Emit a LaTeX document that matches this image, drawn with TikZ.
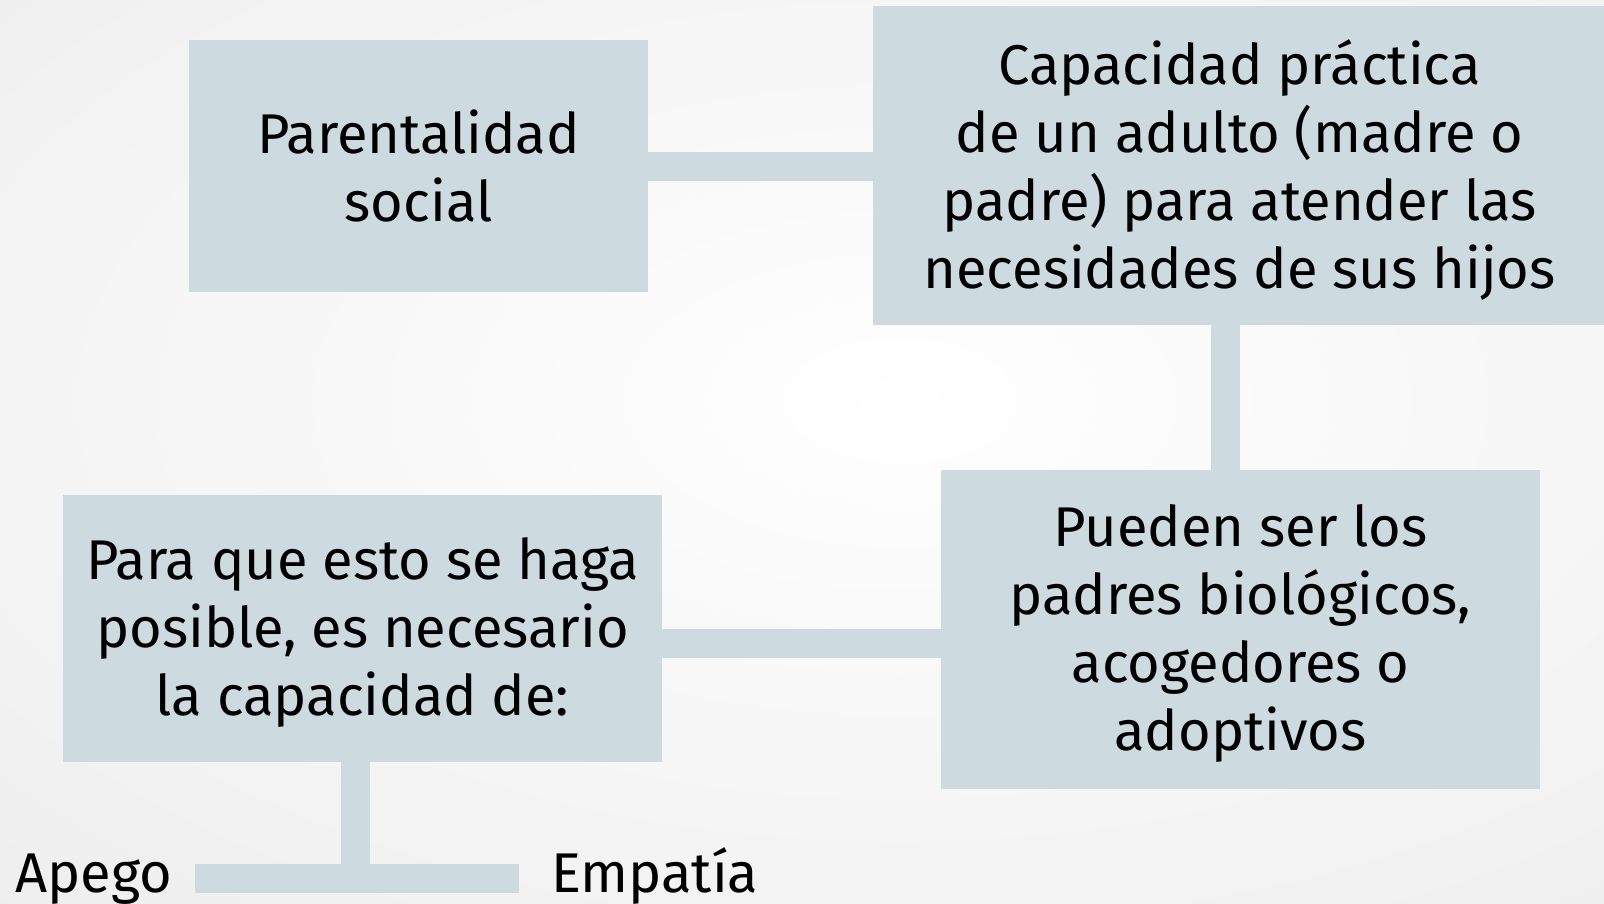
\documentclass[tikz,border=0pt]{standalone}
\usepackage{fontspec}
\setmainfont{Fira Sans}
\usetikzlibrary{calc}
\definecolor{boxc}{RGB}{205,218,224}
\begin{document}
\begin{tikzpicture}[x=1pt,y=-1pt,
  box/.style={fill=boxc, inner sep=0pt},
  txt/.style={inner sep=0pt, align=center, font=\fontsize{56}{68}\selectfont},
  link/.style={draw=boxc, line width=29pt, line cap=butt},
  lbl/.style={inner sep=0pt, anchor=base west, font=\fontsize{56}{68}\selectfont}]
\useasboundingbox (0,0) rectangle (1604,903);
\shade[inner color=white, outer color=black!7] (-500,-350) rectangle (2300,1150);
\node[box, minimum width=459pt, minimum height=252pt] (A) at (418.5,166) {};
\node[box, minimum width=741pt, minimum height=319pt] (B) at (1243.5,165.5) {};
\node[box, minimum width=599pt, minimum height=267pt] (C) at (362.5,628.5) {};
\node[box, minimum width=599pt, minimum height=319pt] (D) at (1240.5,629.5) {};
\node[txt] (At) at ([yshift=0pt]A.center) {Parentalidad\\social};
\node[txt] (Bt) at ([yshift=-5pt,xshift=-4pt]B.center) {Capacidad práctica\\de un adulto (madre o\\padre) para atender las\\necesidades de sus hijos};
\node[txt] (Ct) at ([yshift=-4pt]C.center) {Para que esto se haga\\posible, es necesario\\la capacidad de:};
\node[txt] (Dt) at ([yshift=-4pt]D.center) {Pueden ser los\\padres biológicos,\\acogedores o\\adoptivos};
\node[lbl] (apego) at (15,892) {Apego};
\node[lbl] (empatia) at (551,892) {Empatía};
\coordinate (bl) at (195,878.5);
\coordinate (br) at (519,878.5);
\draw[link] (A.east) -- (A.east -| B.west);
\draw[link] ([xshift=-18pt]B.south) -- ([xshift=-18pt]B.south |- D.north);
\draw[link] ([yshift=-15pt]C.east) -- ([yshift=-15pt]C.east -| D.west);
\draw[link] ([xshift=-7.5pt]C.south) -- ([xshift=-7.5pt]C.south |- bl);
\draw[link] (bl) -- (br);
\end{tikzpicture}
\end{document}
